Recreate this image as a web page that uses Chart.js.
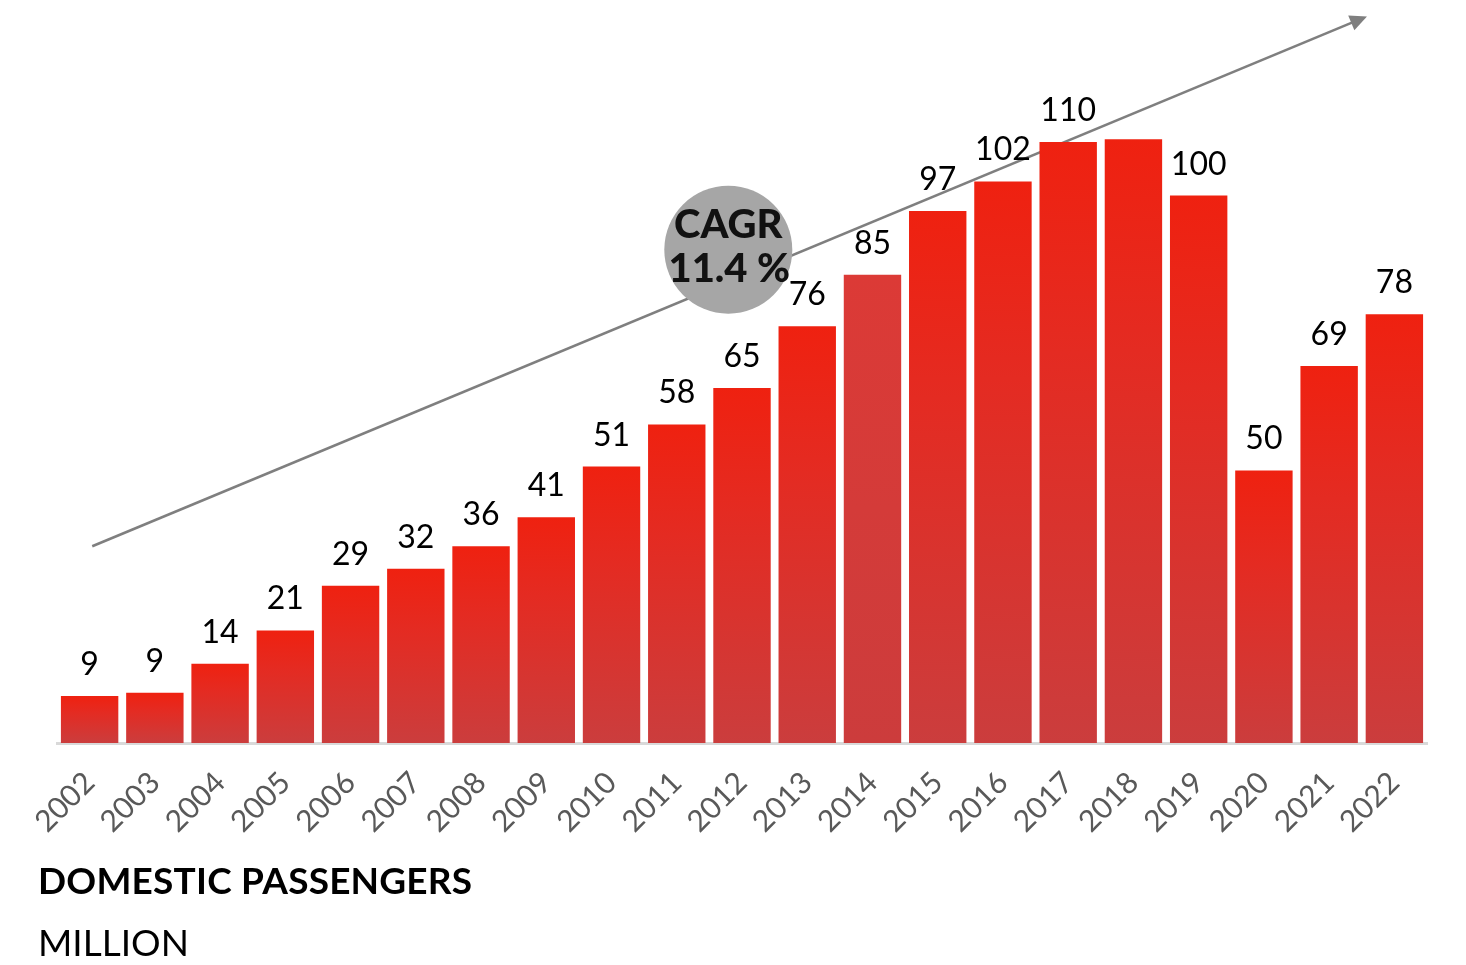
<!DOCTYPE html>
<html>
<head>
<meta charset="utf-8">
<script src="https://cdn.jsdelivr.net/npm/chart.js@4/dist/chart.umd.min.js"></script>
<style>
  html, body { margin: 0; padding: 0; background: #ffffff; }
  #wrap { position: relative; width: 1466px; height: 965px; }
  canvas { position: absolute; left: 0; top: 0; }
  .t1 { position: absolute; left: 38px; top: 857px; font-family: Lato, "Open Sans", sans-serif; font-weight: 700; font-size: 37px; color: #000; white-space: nowrap; letter-spacing: 0.2px; }
  .t2 { position: absolute; left: 38px; top: 919px; font-family: Lato, "Open Sans", sans-serif; font-weight: 400; font-size: 37px; color: #000; white-space: nowrap; }
</style>
</head>
<body>
<div id="wrap">
  <canvas id="c" width="1466" height="965"></canvas>
  <div class="t1">DOMESTIC PASSENGERS</div>
  <div class="t2">MILLION</div>
</div>
<script>
// ---- data ----
const years = ["2002","2003","2004","2005","2006","2007","2008","2009","2010","2011","2012","2013","2014","2015","2016","2017","2018","2019","2020","2021","2022"];
const passengers = [8.6, 9.2, 14.5, 20.6, 28.8, 31.9, 36.0, 41.3, 50.6, 58.3, 65.0, 76.3, 85.7, 97.4, 102.8, 110.0, 110.5, 100.2, 49.9, 69.0, 78.5];
const valueLabels = ["9","9","14","21","29","32","36","41","51","58","65","76","85","97","102","110","","100","50","69","78"];
const cagrText = ["CAGR", "11.4 %"];
// trend arrow in data terms: [category index, value]
const arrowStart = [0.04, 36];
const arrowEnd = [19.58, 133];
const cagrCenter = [9.79, 90.3];

const FONT = 'Lato, "Open Sans", sans-serif';

function barColor(ctx) {
  const chart = ctx.chart;
  const i = ctx.dataIndex;
  const ys = chart.scales.y;
  if (!ys || !chart.chartArea) return '#e02a20';
  const v = ctx.dataset.data[i];
  const top = ys.getPixelForValue(v);
  const bot = ys.getPixelForValue(0);
  const g = chart.ctx.createLinearGradient(0, top, 0, bot);
  if (years[i] === '2014') {
    g.addColorStop(0, '#dc3a36');
    g.addColorStop(1, '#cc3c3c');
  } else {
    g.addColorStop(0, '#ef2110');
    g.addColorStop(0.35, '#e42b22');
    g.addColorStop(1, '#cb3d3d');
  }
  return g;
}

const arrowPlugin = {
  id: 'arrow',
  beforeDatasetsDraw(chart) {
    const { ctx, scales: { x, y } } = chart;
    const cw = x.getPixelForValue(1) - x.getPixelForValue(0);
    const x0 = x.getPixelForValue(0) + arrowStart[0] * cw, y0 = y.getPixelForValue(arrowStart[1]);
    const x1 = x.getPixelForValue(0) + arrowEnd[0] * cw, y1 = y.getPixelForValue(arrowEnd[1]);
    const ang = Math.atan2(y1 - y0, x1 - x0);
    const L = 17, W = 8;
    ctx.save();
    ctx.strokeStyle = '#7f7f7f';
    ctx.fillStyle = '#7f7f7f';
    ctx.lineWidth = 2.6;
    ctx.beginPath();
    ctx.moveTo(x0, y0);
    ctx.lineTo(x1 - Math.cos(ang) * (L - 2), y1 - Math.sin(ang) * (L - 2));
    ctx.stroke();
    ctx.beginPath();
    ctx.moveTo(x1, y1);
    ctx.lineTo(x1 - Math.cos(ang) * L - Math.sin(ang) * W, y1 - Math.sin(ang) * L + Math.cos(ang) * W);
    ctx.lineTo(x1 - Math.cos(ang) * L + Math.sin(ang) * W, y1 - Math.sin(ang) * L - Math.cos(ang) * W);
    ctx.closePath();
    ctx.fill();
    ctx.restore();
  },
  afterDatasetsDraw(chart) {
    const { ctx, scales: { x, y } } = chart;
    const cw = x.getPixelForValue(1) - x.getPixelForValue(0);
    // CAGR bubble
    const cx = x.getPixelForValue(0) + cagrCenter[0] * cw, cy = y.getPixelForValue(cagrCenter[1]);
    ctx.save();
    ctx.fillStyle = '#a6a6a6';
    ctx.beginPath();
    ctx.arc(cx, cy, 64, 0, Math.PI * 2);
    ctx.fill();
    ctx.fillStyle = '#111111';
    ctx.font = '900 40px ' + FONT;
    ctx.textAlign = 'center';
    ctx.textBaseline = 'alphabetic';
    ctx.fillText(cagrText[0], cx, cy - 12);
    ctx.fillText(cagrText[1], cx + 1, cy + 32);
    // value labels
    const meta = chart.getDatasetMeta(0);
    ctx.fillStyle = '#000000';
    ctx.font = '400 32px ' + FONT;
    ctx.textBaseline = 'alphabetic';
    meta.data.forEach((bar, i) => {
      if (!valueLabels[i]) return;
      ctx.fillText(valueLabels[i], bar.x, bar.y - 21);
    });
    ctx.restore();
  }
};

new Chart(document.getElementById('c'), {
  type: 'bar',
  data: {
    labels: years,
    datasets: [{
      data: passengers,
      backgroundColor: barColor,
      borderWidth: 0,
      barPercentage: 0.88,
      categoryPercentage: 1.0
    }]
  },
  options: {
    responsive: false,
    animation: false,
    events: [],
    layout: { padding: { left: 57, right: 39, top: 0, bottom: 0 } },
    plugins: { legend: { display: false }, tooltip: { enabled: false } },
    scales: {
      x: {
        grid: { display: false, drawTicks: false },
        border: { display: true, color: '#d9d9d9', width: 3 },
        ticks: {
          color: '#595959',
          font: { family: FONT, size: 30 },
          minRotation: 45,
          maxRotation: 45,
          padding: 22,
          autoSkip: false
        },
        afterFit(scale) { scale.height = 222; }
      },
      y: {
        display: false,
        min: 0,
        max: 136
      }
    }
  },
  plugins: [arrowPlugin]
});
</script>
</body>
</html>
